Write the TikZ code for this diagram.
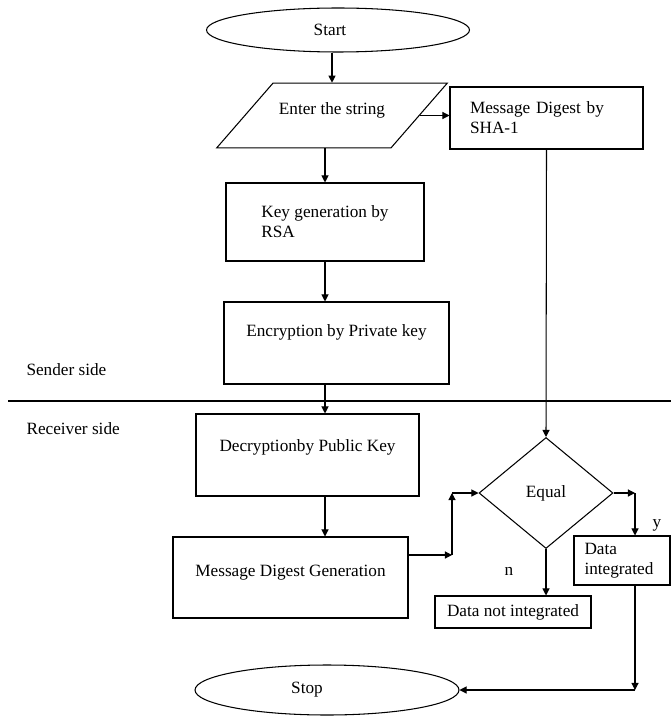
\documentclass[tikz,border=0pt]{standalone}
\usepackage{fontspec}
\setmainfont{Liberation Serif}
\usetikzlibrary{shapes.geometric, arrows.meta}

\begin{document}
\begin{tikzpicture}[x=0.02cm, y=-0.02cm, line width=0.6pt,
 every node/.style={font=\fontsize{9.8}{11.4}\selectfont, inner sep=0pt},
 box/.style={draw, rectangle},
 term/.style={draw, ellipse},
 arr/.style={-{Triangle[length=4pt, width=4pt]}}]
\useasboundingbox (0,0) rectangle (671,716);

\node[term, minimum width=5.26cm, minimum height=0.88cm] (start) at (338,30) {\hspace*{-0.32cm}Start};
\node[draw, trapezium, trapezium left angle=49, trapezium right angle=131,
 inner xsep=0.12cm, inner ysep=0.39cm, text height=0.236cm, text depth=0.276cm] (input) at (332,115.5) {Enter the string};
\node[box, minimum width=3.86cm, minimum height=1.24cm, align=left, text width=3.06cm] (sha) at (546.5,118) {Message Digest by\\SHA-1};
\node[box, minimum width=3.96cm, minimum height=1.56cm, align=left] (keygen) at (325,222) {Key generation by\\RSA};
\node[box, minimum width=4.5cm, minimum height=1.64cm, text depth=0.48cm] (enc) at (336.5,343) {Encryption by Private key};
\node[box, minimum width=4.46cm, minimum height=1.64cm, text depth=0.36cm] (dec) at (307.5,455) {Decryptionby Public Key};
\node[box, minimum width=4.7cm, minimum height=1.62cm, text depth=0.28cm] (mdg) at (290.5,577.5) {Message Digest Generation};
\node[draw, diamond, minimum width=2.68cm, minimum height=2.22cm] (eq) at (546,493) {Equal};
\node[box, minimum width=1.92cm, minimum height=0.98cm, align=left, text width=1.5cm] (dataint) at (622,560.5) {Data\\integrated};
\node[box, minimum width=3.12cm, minimum height=0.64cm] (datanot) at (513,612) {Data not integrated};
\node[term, minimum width=5.28cm, minimum height=1cm] (stop) at (327,690) {\hspace*{-0.8cm}Stop};

\node[anchor=west] (sender) at (26,370) {Sender side};
\node[anchor=west] (receiver) at (26,429) {Receiver side};
\node (ylab) at (657,525) {y};
\node (nlab) at (509,571) {n};

\draw (8,401) -- (671,401);

\coordinate (j1) at (452,555);
\coordinate (j2) at (452,493);
\coordinate (j3) at (635,493);
\coordinate (j4) at (635,690);

\draw[arr] (input.north |- start.south) -- (input.north);
\draw[arr] (input.east) -- (input.east -| sha.west);
\draw[arr] (keygen.north |- input.south) -- (keygen.north);
\draw[arr] (keygen.south) -- (keygen.south |- enc.north);
\draw[arr] (keygen.south |- enc.south) -- (keygen.south |- dec.north);
\draw[arr] (keygen.south |- dec.south) -- (keygen.south |- mdg.north);
\draw[arr] (mdg.east |- j1) -- (j1);
\draw[arr] (j1) -- (j2);
\draw[arr] (j2) -- (eq.west);
\draw[arr] (sha.south) -- (eq.north);
\draw[arr] (eq.east) -- (j3);
\draw[arr] (j3) -- (dataint.north -| j3);
\draw[arr] (eq.south) -- (eq.south |- datanot.north);
\draw[arr] (dataint.south -| j3) -- (j4);
\draw[arr] (j4) -- (stop.east);

\end{tikzpicture}
\end{document}
